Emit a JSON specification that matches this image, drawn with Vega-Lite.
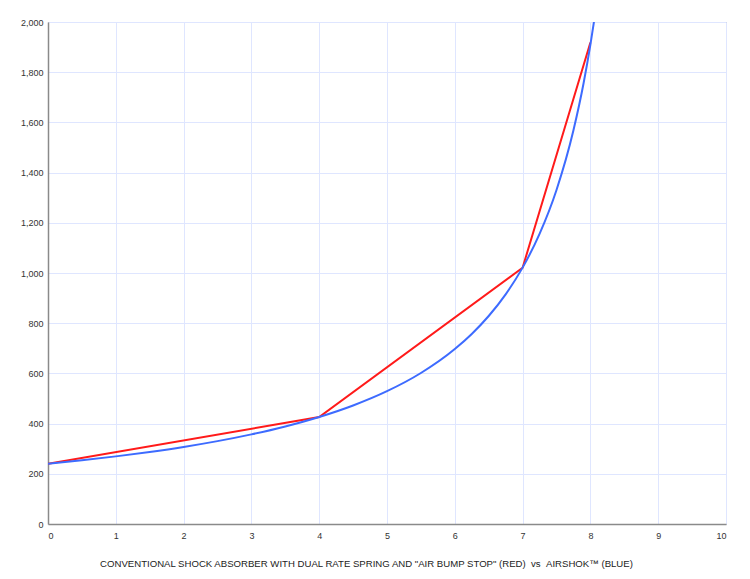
{
  "$schema": "https://vega.github.io/schema/vega-lite/v6.json",
  "width": 678,
  "height": 502,
  "autosize": {"type": "none"},
  "padding": {"left": 48, "top": 22, "right": 24, "bottom": 55},
  "background": "white",
  "config": {
    "view": {"stroke": "#9a9a9a", "strokeWidth": 1},
    "font": "Liberation Sans",
    "axis": {
      "labelFont": "Liberation Sans",
      "labelFontSize": 9,
      "labelColor": "#333333",
      "gridColor": "#dfe6ff",
      "gridWidth": 1,
      "domainColor": "#8a8a8a",
      "domainWidth": 1.5,
      "ticks": false
    }
  },
  "data": {
    "values": [
      {"series": "AIRSHOK", "x": 0, "y": 240},
      {"series": "AIRSHOK", "x": 0.5, "y": 253.9},
      {"series": "AIRSHOK", "x": 1, "y": 269.4},
      {"series": "AIRSHOK", "x": 1.5, "y": 287.1},
      {"series": "AIRSHOK", "x": 2, "y": 307.1},
      {"series": "AIRSHOK", "x": 2.5, "y": 330.2},
      {"series": "AIRSHOK", "x": 3, "y": 357.1},
      {"series": "AIRSHOK", "x": 3.5, "y": 388.7},
      {"series": "AIRSHOK", "x": 4, "y": 426.4},
      {"series": "AIRSHOK", "x": 4.5, "y": 472.3},
      {"series": "AIRSHOK", "x": 5, "y": 529.2},
      {"series": "AIRSHOK", "x": 5.5, "y": 601.6},
      {"series": "AIRSHOK", "x": 6, "y": 697.1},
      {"series": "AIRSHOK", "x": 6.25, "y": 757.2},
      {"series": "AIRSHOK", "x": 6.5, "y": 828.7},
      {"series": "AIRSHOK", "x": 6.75, "y": 915},
      {"series": "AIRSHOK", "x": 7, "y": 1021.4},
      {"series": "AIRSHOK", "x": 7.25, "y": 1155.8},
      {"series": "AIRSHOK", "x": 7.5, "y": 1330.9},
      {"series": "AIRSHOK", "x": 7.75, "y": 1568.6},
      {"series": "AIRSHOK", "x": 7.9, "y": 1756.8},
      {"series": "AIRSHOK", "x": 8, "y": 1909.6},
      {"series": "AIRSHOK", "x": 8.05, "y": 1996.4},
      {"series": "AIRSHOK", "x": 8.06, "y": 2014.7},
      {"series": "CONVENTIONAL", "x": 0, "y": 240},
      {"series": "CONVENTIONAL", "x": 4, "y": 426},
      {"series": "CONVENTIONAL", "x": 7, "y": 1021},
      {"series": "CONVENTIONAL", "x": 8, "y": 1918}
    ]
  },
  "encoding": {
    "x": {
      "field": "x",
      "type": "quantitative",
      "scale": {"domain": [0, 10], "nice": false},
      "axis": {
        "values": [0, 1, 2, 3, 4, 5, 6, 7, 8, 9, 10],
        "format": "d",
        "labelPadding": 7,
        "title": "CONVENTIONAL SHOCK ABSORBER WITH DUAL RATE SPRING AND \"AIR BUMP STOP\" (RED)\u00a0\u00a0vs\u00a0\u00a0AIRSHOK\u2122 (BLUE)",
        "titleFont": "Liberation Sans",
        "titleFontSize": 9.6,
        "titleFontWeight": "normal",
        "titleColor": "#222222",
        "titlePadding": 18,
        "titleX": 318
      }
    },
    "y": {
      "field": "y",
      "type": "quantitative",
      "scale": {"domain": [0, 2000], "nice": false},
      "axis": {
        "values": [0, 200, 400, 600, 800, 1000, 1200, 1400, 1600, 1800, 2000],
        "format": ",d",
        "labelPadding": 5,
        "title": null
      }
    },
    "color": {
      "field": "series",
      "type": "nominal",
      "scale": {"domain": ["CONVENTIONAL", "AIRSHOK"], "range": ["#ff1a1a", "#3d6bff"]},
      "legend": null
    },
    "order": {"field": "x", "type": "quantitative"}
  },
  "layer": [
    {
      "transform": [{"filter": "datum.series === 'CONVENTIONAL'"}],
      "mark": {"type": "line", "strokeWidth": 2, "clip": true, "interpolate": "linear"}
    },
    {
      "transform": [{"filter": "datum.series === 'AIRSHOK'"}],
      "mark": {"type": "line", "strokeWidth": 2, "clip": true, "interpolate": "monotone"}
    }
  ]
}
